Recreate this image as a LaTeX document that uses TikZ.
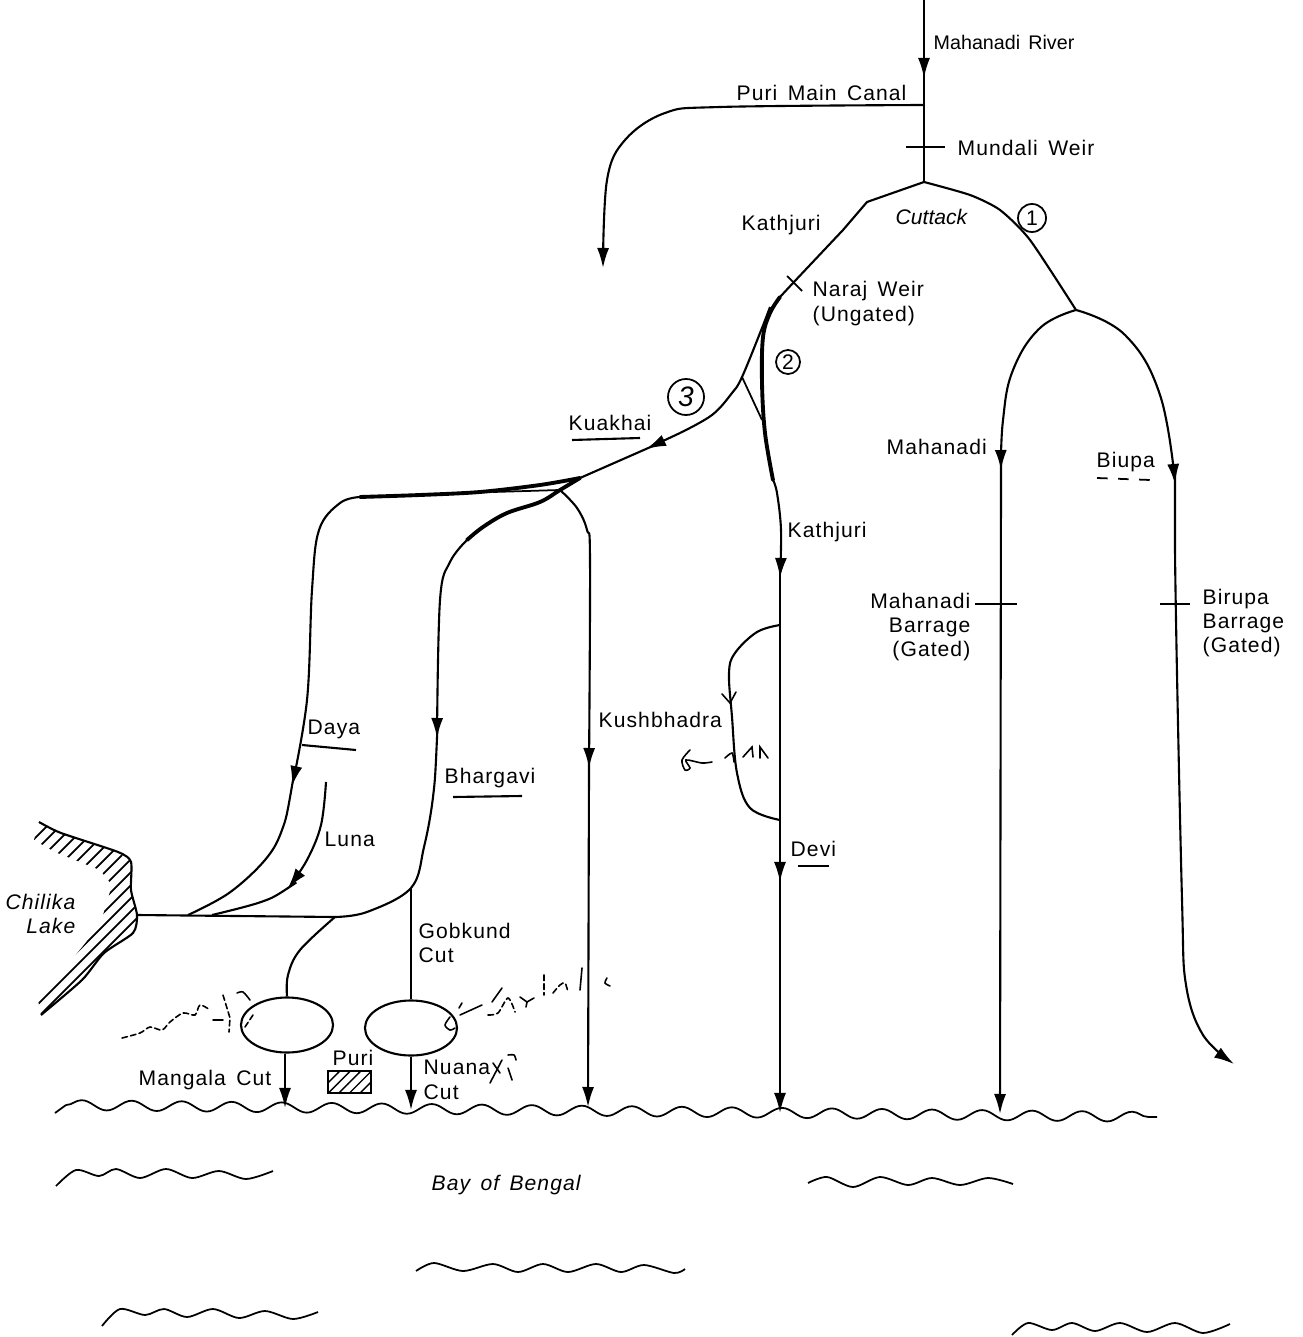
\documentclass[tikz,border=0pt]{standalone}
\usepackage{fontspec}
\setmainfont[LetterSpace=5,WordSpace=1.5]{Liberation Sans}
\usetikzlibrary{arrows.meta,decorations.pathmorphing,patterns,shapes.geometric}
\tikzset{
    river/.style={line width=0.6pt,>={Latex[length=2mm,width=1.2mm]}},
    joined/.style={shorten <=-1mm},
    thickriver/.style={line width=1.1pt,line cap=round},
    weir/.style={line width=0.5pt},
    lbl/.style={font=\fontsize{6}{7}\selectfont,inner sep=0pt,anchor=west},
    lblit/.style={lbl,font=\fontsize{6}{7}\selectfont\itshape},
    lagoon/.style={draw,ellipse,line width=0.6pt,minimum width=0.92cm,minimum height=0.55cm,inner sep=0pt},
    num/.style={draw,circle,line width=0.5pt,inner sep=0pt,font=\fontsize{6}{7}\selectfont},
    sea/.style={line width=0.5pt,decorate,decoration={snake,segment length=0.5cm,amplitude=0.05cm}},
    wave/.style={line width=0.5pt},
    under/.style={line width=0.6pt},
    scribble/.style={line width=0.45pt,line cap=round},
    scribbledots/.style={scribble,dash pattern=on 1.6pt off 0.9pt},
}
\begin{document}
\begin{tikzpicture}[x=0.01cm,y=-0.01cm]
    \useasboundingbox (0,0) rectangle (1302,1337);

    \coordinate (source) at (924,0);
    \coordinate (riverarrow) at (924,78);
    \coordinate (canalhead) at (924,105);
    \coordinate (canalend) at (603,268);
    \coordinate (cuttack) at (924,182);
    \coordinate (mahanadisplit) at (1076,310);
    \coordinate (narajend) at (780,297);
    \coordinate (kuakhaisplit) at (742,377);
    \coordinate (kathjuriend) at (773,480);
    \coordinate (kuakhaiarrow) at (646,449);
    \coordinate (delta) at (580,478);
    \coordinate (deltalow) at (560,490);
    \coordinate (kathjuriarrow) at (780,578);
    \coordinate (loopin) at (780,625);
    \coordinate (loopout) at (780,820);
    \coordinate (deviarrow) at (780,882);
    \coordinate (kathjurisea) at (780,1113);
    \coordinate (mahanadiarrow) at (1001,470);
    \coordinate (mahanadisea) at (1000,1114);
    \coordinate (biupaarrow) at (1175,484);
    \coordinate (biupaend) at (1234,1064);
    \coordinate (dayastart) at (360,497);
    \coordinate (dayaarrow) at (292,786);
    \coordinate (lakemouth) at (137,915);
    \coordinate (dayajoin) at (188,915);
    \coordinate (lunastart) at (326,782);
    \coordinate (lunaarrow) at (288,888);
    \coordinate (lunajoin) at (212,915);
    \coordinate (bhargavithick) at (467,540);
    \coordinate (bhargaviarrow) at (437,738);
    \coordinate (gobkund) at (411,888);
    \coordinate (mangalahead) at (335,917);
    \coordinate (kusharrow) at (589,768);
    \coordinate (kushsea) at (588,1107);
    \coordinate (mangalasea) at (285,1108);
    \coordinate (nuanasea) at (411,1110);

    \node[lagoon] (mangalalagoon) at (287,1025) {};
    \node[lagoon] (nuanalagoon) at (411,1028) {};

    \draw[river,->] (source) -- (riverarrow);
    \draw[river,joined] (riverarrow) -- (cuttack);
    \draw[river,->] plot[smooth,tension=.6] coordinates {(canalhead) (720,107) (665,113) (625,140) (607,180) (canalend)};
    \draw[weir] (906,147) -- (945,147);

    \draw[river] (cuttack) -- (867,202) -- (843,230) -- (793,283) -- (narajend);
    \draw[weir] (787,276) -- (802,291);
    \draw[river] plot[smooth,tension=.4] coordinates {(cuttack) (970,195) (1000,210) (1030,240) (mahanadisplit)};
    \draw[river,->] plot[smooth,tension=.7] coordinates {(mahanadisplit) (1040,328) (1013,370) (1003,420) (mahanadiarrow)};
    \draw[river,->,joined] (mahanadiarrow) -- (mahanadisea);
    \draw[weir] (975,604) -- (1017,604);
    \draw[river,->] plot[smooth,tension=.7] coordinates {(mahanadisplit) (1125,335) (1160,395) (biupaarrow)};
    \draw[river,->,joined] plot[smooth,tension=.6] coordinates {(biupaarrow) (1176,620) (1182,900) (1186,985) (1203,1035) (biupaend)};
    \draw[weir] (1160,604) -- (1190,604);

    \draw[thickriver] plot[smooth,tension=.6] coordinates {(narajend) (770,313) (763,337) (762,383) (765,433) (kathjuriend)};
    \draw[river] plot[smooth,tension=.6] coordinates {(770,307) (762,328) (kuakhaisplit) (732,393) (712,415) (680,433)};
    \draw[river,->] (680,433) -- (kuakhaiarrow);
    \draw[river,joined] (kuakhaiarrow) -- (delta);
    \draw[weir] (kuakhaisplit) -- (762,420);
    \draw[river,->] plot[smooth,tension=.6] coordinates {(kathjuriend) (777,493) (781,530) (kathjuriarrow)};
    \draw[river,joined] (kathjuriarrow) -- (loopin) -- (loopout);
    \draw[river,->] (loopout) -- (deviarrow);
    \draw[river,->,joined] (deviarrow) -- (kathjurisea);
    \draw[river] plot[smooth,tension=.6] coordinates {(loopin) (757,632) (735,653) (729,673) (732,717) (737,773) (750,808) (loopout)};
    \draw[scribble] (722,694) -- (730,703) -- (736,692);

    \draw[thickriver] plot[smooth,tension=.5] coordinates {(delta) (540,485) (480,492) (420,495) (dayastart)};
    \draw[weir] (deltalow) -- (493,492);
    \draw[river,->] plot[smooth,tension=.6] coordinates {(dayastart) (340,503) (319,530) (312,590) (307,700) (dayaarrow)};
    \draw[river,joined] plot[smooth,tension=.6] coordinates {(dayaarrow) (282,830) (265,860) (229,893) (dayajoin)};
    \draw[river,->] plot[smooth,tension=.6] coordinates {(lunastart) (321,825) (307,860) (lunaarrow)};
    \draw[river,joined] plot[smooth,tension=.6] coordinates {(lunaarrow) (261,902) (lunajoin)};
    \draw[river] (lakemouth) -- (mangalahead);

    \draw[thickriver] plot[smooth,tension=.6] coordinates {(delta) (deltalow) (540,502) (507,513) (483,527) (bhargavithick)};
    \draw[river,->] plot[smooth,tension=.6] coordinates {(bhargavithick) (450,562) (440,600) (bhargaviarrow)};
    \draw[river,joined] plot[smooth,tension=.6] coordinates {(bhargaviarrow) (433,797) (424,847) (gobkund) (367,912) (mangalahead)};
    \draw[river] (gobkund) -- (nuanalagoon.north);
    \draw[river] plot[smooth,tension=.6] coordinates {(mangalahead) (300,950) (288,975) (mangalalagoon.north)};
    \draw[river,->] (mangalasea |- mangalalagoon.south) -- (mangalasea);
    \draw[river,->] (nuanalagoon.south) -- (nuanasea);
    \draw[river,->] plot[smooth,tension=.6] coordinates {(deltalow) (577,508) (587,530) (590,560) (kusharrow)};
    \draw[river,->,joined] (kusharrow) -- (kushsea);

    \draw[river] plot[smooth,tension=.4] coordinates {(39,822) (61,833) (118,852) (131,862) (131,890) (lakemouth) (133,933) (104,953) (82,980) (41,1015)};
    \begin{scope}
        \clip (39,822) -- (61,833) -- (118,852) -- (131,862) -- (131,890) -- (137,915) -- (133,933) -- (104,953) -- (82,980) -- (41,1015) -- (38,1000) -- (70,962) -- (100,925) -- (112,885) -- (100,870) -- (55,852) -- (34,840) -- cycle;
        \foreach \c in {860,873,...,1060}
            \draw[weir] (\c-780,780) -- (\c-1050,1050);
    \end{scope}

    \draw[weir,pattern=north east lines] (328,1071) rectangle (371,1093);

    \draw[wave] (55,1113) -- (66,1105);
    \draw[sea] (66,1105) -- (1157,1117);
    \draw[wave] plot[smooth] coordinates {(56,1186) (76,1170) (99,1176) (116,1169) (140,1178) (166,1169) (192,1178) (219,1171) (246,1179) (273,1171)};
    \draw[wave] plot[smooth] coordinates {(808,1183) (827,1177) (853,1187) (880,1177) (908,1185) (932,1178) (960,1185) (988,1178) (1013,1184)};
    \draw[wave] plot[smooth] coordinates {(416,1271) (434,1263) (463,1271) (493,1264) (518,1272) (543,1264) (568,1272) (596,1264) (621,1272) (644,1265) (674,1273) (685,1269)};
    \draw[wave] plot[smooth] coordinates {(102,1326) (120,1309) (145,1315) (164,1309) (187,1317) (213,1309) (239,1318) (265,1311) (293,1319) (318,1312)};
    \draw[wave] plot[smooth] coordinates {(1012,1335) (1028,1323) (1052,1330) (1072,1323) (1095,1331) (1120,1323) (1147,1332) (1175,1323) (1203,1333) (1230,1324)};

    \node[lbl,font=\fontsize{5.6}{7}\selectfont\addfontfeature{LetterSpace=0}] (mahanadiriver) at (933,42) {Mahanadi River};
    \node[lbl] (purimain) at (736,93) {Puri Main Canal};
    \node[lbl] (mundali) at (957,148) {Mundali Weir};
    \node[lbl] (kathjuritop) at (741,225) {Kathjuri};
    \node[lblit,font=\fontsize{6}{7}\selectfont\itshape\addfontfeature{LetterSpace=0}] (cuttacklbl) at (895,217) {Cuttack};
    \node[num,minimum size=0.28cm] (numone) at (1032,218) {1};
    \node[lbl,align=left,font=\fontsize{6}{7.1}\selectfont] (naraj) at (812,304) {Naraj Weir\\(Ungated)};
    \node[num,minimum size=0.24cm] (numtwo) at (788,362) {2};
    \node[num,minimum size=0.36cm,font=\fontsize{8}{9}\selectfont\itshape] (numthree) at (686,397) {3};
    \node[lbl] (kuakhai) at (568,423) {Kuakhai};
    \node[lbl] (mahanadilbl) at (886,447) {Mahanadi};
    \node[lbl] (biupa) at (1096,462) {Biupa};
    \node[lbl] (kathjurimid) at (787,532) {Kathjuri};
    \node[lbl,align=right,anchor=east,font=\fontsize{6}{6.7}\selectfont] (mahanadibarrage) at (971,627) {Mahanadi\\Barrage\\(Gated)};
    \node[lbl,align=left,font=\fontsize{6}{6.8}\selectfont] (birupabarrage) at (1202,623) {Birupa\\Barrage\\(Gated)};
    \node[lbl] (kushbhadra) at (598,720) {Kushbhadra};
    \node[lbl] (daya) at (307,729) {Daya};
    \node[lbl] (bhargavi) at (444,778) {Bhargavi};
    \node[lbl] (luna) at (324,839) {Luna};
    \node[lbl] (devi) at (790,849) {Devi};
    \node[lblit,align=right,anchor=east] (chilika) at (76,914) {Chilika\\Lake};
    \node[lbl,align=left] (gobkundcut) at (418,943) {Gobkund\\Cut};
    \node[lbl] (puri) at (332,1058) {Puri};
    \node[lbl] (mangala) at (138,1080) {Mangala Cut};
    \node[lbl,align=left] (nuana) at (423,1080) {Nuana\\Cut};
    \node[lblit] (bay) at (431,1185) {Bay of Bengal};

    \draw[under] (572,440) -- (640,438);
    \draw[weir,dashed] (1097,478) -- (1150,480);
    \draw[under] (302,745) -- (356,750);
    \draw[under] (453,797) -- (522,796);
    \draw[under] (798,866) -- (829,866);

    \draw[scribbledots] plot[smooth] coordinates {(122,1038) (140,1033) (150,1027) (162,1030) (170,1022) (183,1013) (195,1015) (200,1005) (210,1010)};
    \draw[scribble] (213,1020) -- (223,1020);
    \draw[scribbledots] (223,995) -- (230,1018) -- (229,1032);
    \draw[scribble] plot[smooth] coordinates {(237,993) (243,992) (250,1000)};
    \draw[scribbledots] (253,1015) -- (245,1027);
    \draw[scribble] (460,1015) -- (482,1005);
    \draw[scribble] (462,1003) -- (459,1008);
    \draw[scribble] plot[smooth] coordinates {(450,1017) (445,1025) (450,1030) (455,1028)};
    \draw[scribble] (502,988) -- (492,1002);
    \draw[scribbledots] plot[smooth] coordinates {(488,1015) (498,1013) (508,998) (515,1012)};
    \draw[scribble] (520,997) -- (527,1002) -- (534,998);
    \draw[scribble] (527,1002) -- (526,1007);
    \draw[scribbledots] (544,975) -- (544,995);
    \draw[scribbledots] plot[smooth] coordinates {(553,993) (560,985) (565,983) (568,992)};
    \draw[scribble] (582,968) -- (580,990);
    \draw[scribble] plot[smooth] coordinates {(607,978) (605,983) (610,986)};
    \draw[scribble] plot[smooth] coordinates {(690,750) (682,760) (685,770) (690,768) (686,760) (702,763) (712,762)};
    \draw[scribble] plot[smooth] coordinates {(725,758) (732,753) (734,762)};
    \draw[scribble] (743,757) -- (752,747) -- (753,757);
    \draw[scribble] (760,758) -- (760,747) -- (768,758);
    \draw[scribble] (490,1083) -- (502,1060);
    \draw[scribble] (493,1063) -- (500,1073);
    \draw[scribble] (508,1068) -- (512,1080);
    \draw[scribble] plot[smooth] coordinates {(508,1055) (514,1055) (516,1060)};
\end{tikzpicture}
\end{document}
